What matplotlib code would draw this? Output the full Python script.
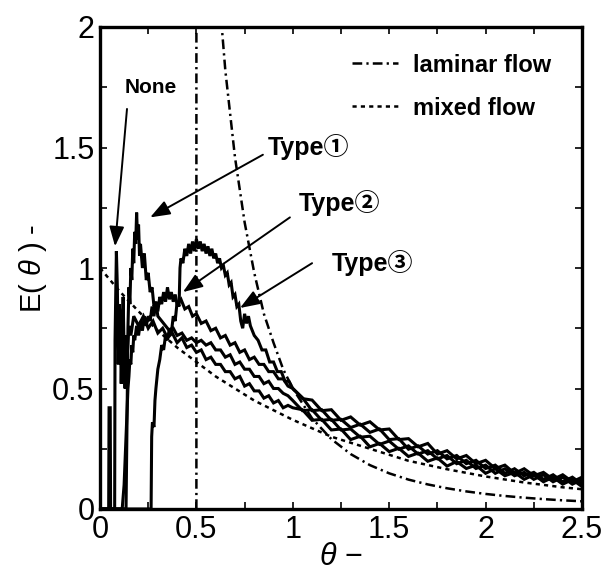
import matplotlib
matplotlib.use("Agg")
import matplotlib.pyplot as plt
import numpy as np
from matplotlib.ticker import MultipleLocator, FuncFormatter
from matplotlib.lines import Line2D

plt.rcParams['font.family'] = ['Liberation Sans', 'DejaVu Sans', 'Noto Sans CJK JP']
plt.rcParams['mathtext.fontset'] = 'custom'
plt.rcParams['mathtext.it'] = 'Liberation Sans:italic'
plt.rcParams['mathtext.rm'] = 'Liberation Sans'
plt.rcParams['lines.scale_dashes'] = False

# ---- theoretical curves ----
laminar_theta = [0.5, 0.5, 0.6, 0.65, 0.7, 0.75, 0.8, 0.85, 0.9, 0.95, 1.0, 1.1, 1.2, 1.3, 1.4, 1.5,
                 1.6, 1.7, 1.8, 1.9, 2.0, 2.1, 2.2, 2.3, 2.4, 2.5]
laminar_E = [0.0, 4.0, 2.31, 1.82, 1.46, 1.19, 0.98, 0.81, 0.69, 0.58, 0.5, 0.376, 0.29, 0.228, 0.182, 0.148,
             0.122, 0.102, 0.086, 0.073, 0.0625, 0.054, 0.047, 0.041, 0.036, 0.032]

mixed_theta = [0.0, 0.1, 0.2, 0.3, 0.4, 0.5, 0.6, 0.7, 0.8, 0.9, 1.0, 1.2, 1.4, 1.6, 1.8, 2.0, 2.2, 2.4, 2.5]
mixed_E = [1.0, 0.905, 0.82, 0.74, 0.67, 0.61, 0.55, 0.5, 0.45, 0.41, 0.37, 0.3, 0.25, 0.2, 0.165,
           0.135, 0.11, 0.09, 0.082]

# ---- experimental curves ----
tail_theta = [1.05, 1.1, 1.15, 1.2, 1.25, 1.3, 1.35, 1.4, 1.45, 1.5, 1.55, 1.6, 1.65, 1.7, 1.75,
              1.8, 1.85, 1.9, 1.95, 2.0, 2.05, 2.1, 2.15, 2.2, 2.25, 2.3, 2.35, 2.4, 2.45, 2.5]

none_theta = [0, 0.045, 0.047, 0.053, 0.055, 0.076, 0.078, 0.085, 0.09, 0.095,
              0.1, 0.105, 0.11, 0.115, 0.12, 0.125, 0.13, 0.135, 0.14, 0.15,
              0.16, 0.175, 0.2, 0.225, 0.25, 0.275, 0.3, 0.325, 0.35, 0.375,
              0.4, 0.425, 0.45, 0.475, 0.5, 0.525, 0.55, 0.575, 0.6, 0.625,
              0.65, 0.675, 0.7, 0.725, 0.75, 0.775, 0.8, 0.825, 0.85, 0.875,
              0.9, 0.925, 0.95, 0.975, 1.0]
none_E = [0, 0, 0.42, 0.42, 0, 0, 0.7, 1.07, 0.92, 0.6,
          0.85, 0.78, 0.52, 0.7, 0.88, 0.65, 0.5, 0.72, 0.62, 0.76,
          0.72, 0.8, 0.76, 0.8, 0.75, 0.78, 0.73, 0.75, 0.71, 0.73,
          0.69, 0.71, 0.67, 0.68, 0.65, 0.66, 0.62, 0.63, 0.6, 0.6,
          0.57, 0.57, 0.54, 0.55, 0.51, 0.52, 0.49, 0.49, 0.46, 0.47,
          0.44, 0.45, 0.42, 0.43, 0.42]
none_tail = [.412, .368, .372, .328, .332, .288, .302, .258, .272, .238, .252, .218, .232, .198, .212,
             .178, .197, .168, .182, .148, .167, .138, .152, .123, .142, .113, .132, .103, .122, .093]

t1_theta = [0, 0.135, 0.14, 0.145, 0.15, 0.155, 0.16, 0.165, 0.17, 0.175,
            0.18, 0.185, 0.19, 0.195, 0.2, 0.205, 0.21, 0.22, 0.23, 0.24,
            0.25, 0.26, 0.27, 0.28, 0.29, 0.3, 0.32, 0.34, 0.36, 0.38,
            0.4, 0.425, 0.45, 0.475, 0.5, 0.525, 0.55, 0.575, 0.6, 0.625,
            0.65, 0.675, 0.7, 0.725, 0.75, 0.775, 0.8, 0.825, 0.85, 0.875,
            0.9, 0.925, 0.95, 0.975, 1.0]
t1_E = [0, 0, 0.35, 0.75, 0.92, 0.85, 1.0, 0.95, 1.08, 1.02,
        1.15, 1.1, 1.23, 1.12, 1.18, 1.05, 1.1, 1.0, 1.06, 0.95,
        0.98, 0.9, 0.92, 0.84, 0.86, 0.8, 0.78, 0.76, 0.74, 0.75,
        0.72, 0.73, 0.7, 0.71, 0.69, 0.7, 0.68, 0.69, 0.66, 0.66,
        0.63, 0.64, 0.6, 0.61, 0.58, 0.58, 0.55, 0.55, 0.52, 0.53,
        0.5, 0.5, 0.48, 0.47, 0.45]
t1_tail = [.408, .412, .368, .372, .328, .332, .298, .302, .268, .282, .248, .262, .228, .242, .208,
           .222, .188, .202, .168, .182, .148, .167, .138, .152, .123, .142, .113, .132, .103, .122]

t2_theta = [0, 0.115, 0.12, 0.125, 0.13, 0.135, 0.14, 0.145, 0.15, 0.155,
            0.16, 0.165, 0.17, 0.175, 0.18, 0.19, 0.2, 0.21, 0.22, 0.23,
            0.24, 0.25, 0.26, 0.27, 0.28, 0.29, 0.3, 0.31, 0.32, 0.33,
            0.34, 0.35, 0.36, 0.37, 0.38, 0.39, 0.4, 0.42, 0.44, 0.46,
            0.48, 0.5, 0.525, 0.55, 0.575, 0.6, 0.625, 0.65, 0.675, 0.7,
            0.725, 0.75, 0.775, 0.8, 0.825, 0.85, 0.875, 0.9, 0.925, 0.95,
            0.975, 1.0]
t2_E = [0, 0, 0.05, 0.1, 0.2, 0.3, 0.4, 0.5, 0.55, 0.62,
        0.6, 0.68, 0.65, 0.72, 0.7, 0.76, 0.72, 0.78, 0.74, 0.8,
        0.76, 0.8, 0.78, 0.84, 0.8, 0.86, 0.82, 0.88, 0.85, 0.9,
        0.86, 0.92, 0.87, 0.9, 0.86, 0.89, 0.85, 0.87, 0.83, 0.84,
        0.8, 0.81, 0.77, 0.78, 0.74, 0.75, 0.71, 0.72, 0.68, 0.69,
        0.65, 0.66, 0.62, 0.63, 0.6, 0.6, 0.57, 0.57, 0.54, 0.54,
        0.51, 0.5]
t2_tail = [.462, .408, .412, .368, .372, .338, .352, .318, .332, .288, .292, .248, .262, .228, .242,
           .208, .222, .188, .202, .168, .182, .148, .167, .138, .152, .123, .142, .113, .132, .103]

t3_theta = [0, 0.265, 0.268, 0.272, 0.28, 0.285, 0.29, 0.3, 0.31, 0.32,
            0.33, 0.34, 0.35, 0.36, 0.37, 0.38, 0.39, 0.4, 0.41, 0.415,
            0.42, 0.43, 0.44, 0.45, 0.46, 0.47, 0.48, 0.49, 0.5, 0.51,
            0.52, 0.53, 0.54, 0.55, 0.56, 0.57, 0.58, 0.59, 0.6, 0.61,
            0.62, 0.63, 0.64, 0.65, 0.66, 0.67, 0.68, 0.69, 0.7, 0.71,
            0.72, 0.73, 0.74, 0.75, 0.76, 0.77, 0.78, 0.79, 0.8, 0.82,
            0.84, 0.86, 0.88, 0.9, 0.92, 0.94, 0.96, 0.98, 1.0]
t3_E = [0, 0, 0.3, 0.36, 0.34, 0.45, 0.5, 0.58, 0.62, 0.68,
        0.66, 0.72, 0.7, 0.75, 0.73, 0.8, 0.78, 0.86, 0.84, 1.0,
        1.04, 1.02, 1.08, 1.05, 1.1, 1.06, 1.11, 1.07, 1.12, 1.08,
        1.11, 1.07, 1.1, 1.06, 1.09, 1.05, 1.08, 1.04, 1.06, 1.02,
        1.04, 1.0, 1.01, 0.97, 0.98, 0.93, 0.94, 0.88, 0.89, 0.84,
        0.85, 0.78, 0.75, 0.81, 0.77, 0.8, 0.76, 0.74, 0.72, 0.7,
        0.66, 0.66, 0.61, 0.61, 0.57, 0.57, 0.53, 0.53, 0.5]
t3_tail = [.458, .452, .408, .412, .368, .382, .348, .362, .328, .332, .288, .292, .258, .272, .228,
           .242, .208, .222, .188, .202, .168, .182, .148, .167, .138, .152, .123, .142, .113, .132]

legend_labels = ["laminar flow", "mixed flow"]
x_ticks = [0, 0.5, 1, 1.5, 2, 2.5]
y_ticks = [0, 0.5, 1, 1.5, 2]

fig = plt.figure(figsize=(6.15, 5.84), dpi=100)
ax = fig.add_axes([100/615, 1-509/584, 482/615, 482/584])

for th, e, tail in [(none_theta, none_E, none_tail), (t1_theta, t1_E, t1_tail),
                    (t2_theta, t2_E, t2_tail), (t3_theta, t3_E, t3_tail)]:
    ax.plot(list(th) + tail_theta, list(e) + tail, color='black', lw=2.2, solid_joinstyle='miter')

LAM_DASH = (7, 3, 1.6, 3)
MIX_DASH = (3, 3)
ax.plot(laminar_theta, laminar_E, color='black', lw=1.8, dashes=LAM_DASH)
ax.plot(mixed_theta, mixed_E, color='black', lw=1.8, dashes=MIX_DASH)

ax.set_xlim(0, 2.5)
ax.set_ylim(0, 2)
ax.set_xticks(x_ticks)
ax.set_yticks(y_ticks)
fmt = FuncFormatter(lambda v, p: f"{v:g}")
ax.xaxis.set_major_formatter(fmt)
ax.yaxis.set_major_formatter(fmt)
ax.xaxis.set_minor_locator(MultipleLocator(0.25))
ax.yaxis.set_minor_locator(MultipleLocator(0.25))
ax.tick_params(which='both', direction='in', top=True, right=True, width=1.2, length=5,
               labelsize=22, pad=4)
for s in ax.spines.values():
    s.set_linewidth(2.4)

ax.set_xlabel("$\\theta$ −", fontsize=22, labelpad=-2)
ax.set_ylabel("E( $\\theta$ ) -", fontsize=21, labelpad=2)

handles = [Line2D([], [], color='black', lw=1.8, dashes=LAM_DASH),
           Line2D([], [], color='black', lw=1.8, dashes=MIX_DASH)]
leg = ax.legend(handles, legend_labels, loc='upper left', bbox_to_anchor=(0.523, 0.945),
                frameon=False, handlelength=1.95, handletextpad=0.64, labelspacing=0.85,
                borderpad=0, borderaxespad=0,
                prop={'size': 17, 'weight': 'bold'})

TYPE_FONT = ['Liberation Sans', 'Noto Sans CJK JP']
arrow_kw = dict(arrowstyle='-|>,head_length=1.2,head_width=0.45', color='black', lw=1.4,
                shrinkA=0, shrinkB=0)
ax.annotate("", xy=(0.078, 1.09), xytext=(0.14, 1.66), arrowprops=arrow_kw)
ax.text(0.13, 1.75, "None", fontsize=15, fontweight='bold', ha='left', va='center')

ax.annotate("", xy=(0.26, 1.21), xytext=(0.845, 1.47), arrowprops=arrow_kw)
ax.text(0.87, 1.5, "Type①", fontsize=18, fontweight='bold', family=TYPE_FONT,
        ha='left', va='center')

ax.annotate("", xy=(0.43, 0.9), xytext=(0.985, 1.21), arrowprops=arrow_kw)
ax.text(1.03, 1.27, "Type②", fontsize=18, fontweight='bold', family=TYPE_FONT,
        ha='left', va='center')

ax.annotate("", xy=(0.726, 0.834), xytext=(1.1, 1.02), arrowprops=arrow_kw)
ax.text(1.2, 1.02, "Type③", fontsize=18, fontweight='bold', family=TYPE_FONT,
        ha='left', va='center')

fig.savefig("out.png", dpi=100)
